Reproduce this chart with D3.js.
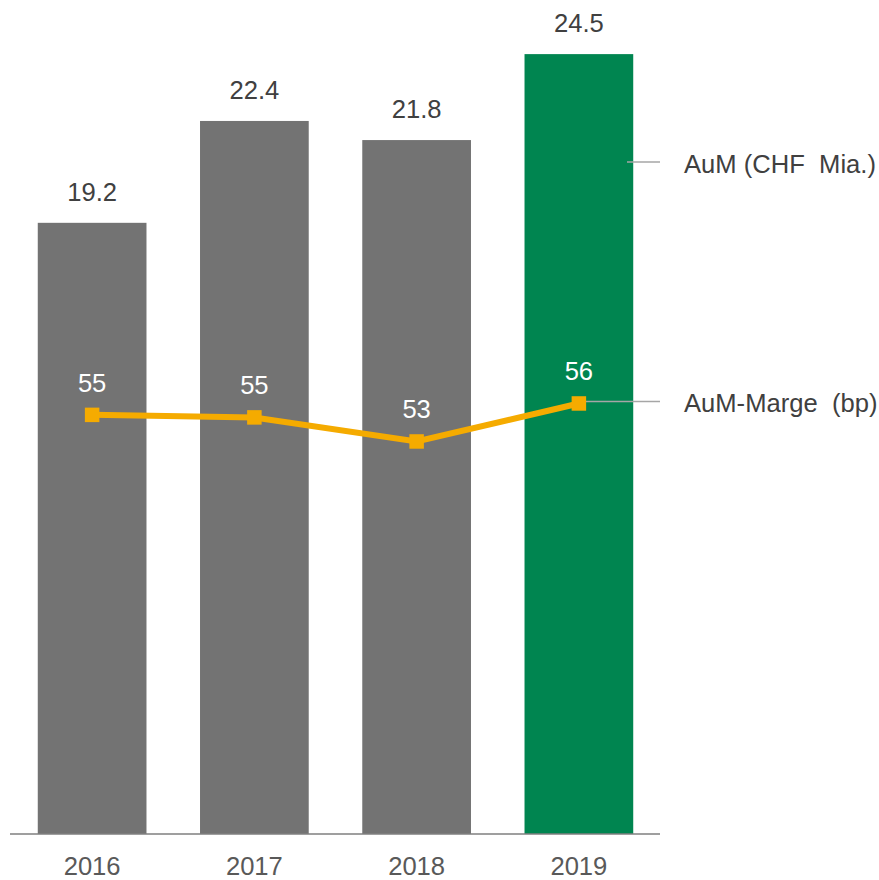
<!DOCTYPE html>
<html>
<head>
<meta charset="utf-8">
<script src="https://cdn.jsdelivr.net/npm/d3@7"></script>
<style>
  html, body { margin: 0; padding: 0; background: #ffffff; }
  svg { display: block; font-family: "Liberation Sans", Arial, sans-serif; }
</style>
</head>
<body>
<svg id="chart" width="879" height="880"></svg>
<script>
// ---- data ----
const years = ["2016", "2017", "2018", "2019"];
const aum = [19.2, 22.4, 21.8, 24.5];          // AuM (CHF Mia.)
const marge = [55.1, 54.9, 53.0, 56.0];        // AuM-Marge (bp)
const margeLabels = ["55", "55", "53", "56"];
const seriesNames = ["AuM (CHF\u00a0 Mia.)", "AuM-Marge\u00a0 (bp)"];

// ---- style ----
const grayBar = "#737373";
const greenBar = "#008550";
const orange = "#F5AB00";
const textDark = "#404040";
const textYear = "#595959";
const leader = "#A6A6A6";
const fontSize = 25.6;

const svg = d3.select("#chart");

const x = d3.scaleBand().domain(years).range([11, 660]).paddingInner(0.33).paddingOuter(0.165);
const yBar = d3.scaleLinear().domain([0, 26.2]).range([834, 0]);
const yLine = d3.scaleLinear().domain([45, 60]).range([542.8, 352.8]);

// bars
svg.append("g").selectAll("rect").data(years).join("rect")
  .attr("x", d => x(d))
  .attr("width", x.bandwidth())
  .attr("y", (d, i) => yBar(aum[i]))
  .attr("height", (d, i) => yBar(0) - yBar(aum[i]))
  .attr("fill", (d, i) => i === years.length - 1 ? greenBar : grayBar);

// bar value labels
svg.append("g").selectAll("text").data(years).join("text")
  .attr("x", d => x(d) + x.bandwidth() / 2)
  .attr("y", (d, i) => yBar(aum[i]) - 22)
  .attr("text-anchor", "middle")
  .attr("font-size", fontSize)
  .attr("fill", textDark)
  .text((d, i) => aum[i].toFixed(1));

// x axis line
svg.append("line")
  .attr("x1", x.range()[0] - 1).attr("x2", x.range()[1])
  .attr("y1", yBar(0)).attr("y2", yBar(0))
  .attr("stroke", "#7F7F7F").attr("stroke-width", 1.5);

// year labels
svg.append("g").selectAll("text").data(years).join("text")
  .attr("x", d => x(d) + x.bandwidth() / 2)
  .attr("y", 875)
  .attr("text-anchor", "middle")
  .attr("font-size", fontSize)
  .attr("fill", textYear)
  .text(d => d);

// legend leader lines
const lastX = x(years[3]) + x.bandwidth() / 2;
svg.append("line")
  .attr("x1", 627).attr("x2", 660)
  .attr("y1", 162).attr("y2", 162)
  .attr("stroke", leader).attr("stroke-width", 1.5);
svg.append("line")
  .attr("x1", lastX).attr("x2", 660)
  .attr("y1", yLine(marge[3]) - 2).attr("y2", yLine(marge[3]) - 2)
  .attr("stroke", leader).attr("stroke-width", 1.5);

// line
const line = d3.line()
  .x((d, i) => x(years[i]) + x.bandwidth() / 2)
  .y(d => yLine(d));
svg.append("path")
  .datum(marge)
  .attr("d", line)
  .attr("fill", "none")
  .attr("stroke", orange)
  .attr("stroke-width", 6);

// markers
const ms = 14.5;
svg.append("g").selectAll("rect").data(marge).join("rect")
  .attr("x", (d, i) => x(years[i]) + x.bandwidth() / 2 - ms / 2)
  .attr("y", d => yLine(d) - ms / 2)
  .attr("width", ms).attr("height", ms)
  .attr("fill", orange);

// line labels
svg.append("g").selectAll("text").data(marge).join("text")
  .attr("x", (d, i) => x(years[i]) + x.bandwidth() / 2)
  .attr("y", d => yLine(d) - 23)
  .attr("text-anchor", "middle")
  .attr("font-size", fontSize)
  .attr("fill", "#ffffff")
  .text((d, i) => margeLabels[i]);

// legend labels
svg.append("text")
  .attr("x", 684).attr("y", 173)
  .attr("font-size", fontSize).attr("fill", textDark)
  .text(seriesNames[0]);
svg.append("text")
  .attr("x", 684).attr("y", 412)
  .attr("font-size", fontSize).attr("fill", textDark)
  .text(seriesNames[1]);
</script>
</body>
</html>
